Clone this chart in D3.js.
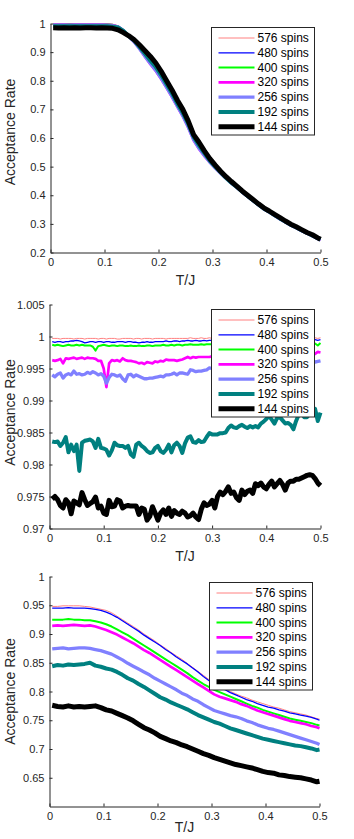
<!DOCTYPE html>
<html>
<head>
<meta charset="utf-8">
<script src="https://cdn.jsdelivr.net/npm/d3@7"></script>
<style>
  body { margin: 0; background: #fff; }
  svg { display: block; font-family: "Liberation Sans", Arial, sans-serif; }
</style>
</head>
<body>
<div id="chart"></div>
<script>
// legend labels and styles of the seven system sizes
const spinLabels = ['576 spins', '480 spins', '400 spins', '320 spins', '256 spins', '192 spins', '144 spins']
const spinColors = ['#ff8080', '#0000ff', '#00ff00', '#ff00ff', '#8080ff', '#008080', '#000000']
const spinWidths = [1, 1.3, 2, 2.7, 3.3, 4, 5]

const xTicks = [0, 0.1, 0.2, 0.3, 0.4, 0.5]
const yTicksTop = [0.2, 0.3, 0.4, 0.5, 0.6, 0.7, 0.8, 0.9, 1]
const yTicksMid = [0.97, 0.975, 0.98, 0.985, 0.99, 0.995, 1, 1.005]
const yTicksBot = [0.65, 0.7, 0.75, 0.8, 0.85, 0.9, 0.95, 1]

// temperature grid of the top and bottom panels
const tCoarse = [0.005, 0.015, 0.025, 0.035, 0.045, 0.055, 0.065, 0.075, 0.085, 0.095,
  0.105, 0.115, 0.125, 0.135, 0.145, 0.155, 0.165, 0.175, 0.185, 0.195,
  0.205, 0.215, 0.225, 0.235, 0.245, 0.255, 0.265, 0.275, 0.285, 0.295,
  0.305, 0.315, 0.325, 0.335, 0.345, 0.355, 0.365, 0.375, 0.385, 0.395,
  0.405, 0.415, 0.425, 0.435, 0.445, 0.455, 0.465, 0.475, 0.485, 0.495, 0.5]

// temperature grid of the middle panel
const tFine = [0.005, 0.01, 0.015, 0.02, 0.025, 0.03, 0.035, 0.04, 0.045, 0.05,
  0.055, 0.06, 0.065, 0.07, 0.075, 0.08, 0.085, 0.09, 0.095, 0.1,
  0.105, 0.11, 0.115, 0.12, 0.125, 0.13, 0.135, 0.14, 0.145, 0.15,
  0.155, 0.16, 0.165, 0.17, 0.175, 0.18, 0.185, 0.19, 0.195, 0.2,
  0.205, 0.21, 0.215, 0.22, 0.225, 0.23, 0.235, 0.24, 0.245, 0.25,
  0.255, 0.26, 0.265, 0.27, 0.275, 0.28, 0.285, 0.29, 0.295, 0.3,
  0.305, 0.31, 0.315, 0.32, 0.325, 0.33, 0.335, 0.34, 0.345, 0.35,
  0.355, 0.36, 0.365, 0.37, 0.375, 0.38, 0.385, 0.39, 0.395, 0.4,
  0.405, 0.41, 0.415, 0.42, 0.425, 0.43, 0.435, 0.44, 0.445, 0.45,
  0.455, 0.46, 0.465, 0.47, 0.475, 0.48, 0.485, 0.49, 0.495, 0.5]

// top panel
const top576 = [0.999, 0.999, 0.999, 0.999, 0.999, 0.999, 0.999, 0.999, 0.999, 0.999,
  0.998, 0.997, 0.992, 0.978, 0.958, 0.94, 0.916, 0.89, 0.866, 0.842,
  0.814, 0.782, 0.75, 0.715, 0.682, 0.643, 0.598, 0.567, 0.542, 0.518,
  0.498, 0.478, 0.46, 0.443, 0.428, 0.412, 0.397, 0.382, 0.367, 0.353,
  0.342, 0.33, 0.318, 0.307, 0.296, 0.287, 0.277, 0.268, 0.259, 0.249, 0.245]
const top480 = [0.998, 0.998, 0.998, 0.998, 0.999, 0.998, 0.998, 0.998, 0.998, 0.998,
  0.997, 0.996, 0.99, 0.976, 0.955, 0.938, 0.915, 0.888, 0.864, 0.84,
  0.812, 0.78, 0.748, 0.713, 0.68, 0.641, 0.597, 0.566, 0.541, 0.518,
  0.497, 0.478, 0.46, 0.443, 0.428, 0.412, 0.397, 0.382, 0.367, 0.353,
  0.342, 0.33, 0.318, 0.307, 0.296, 0.287, 0.277, 0.268, 0.259, 0.249, 0.245]
const top400 = [0.998, 0.998, 0.998, 0.997, 0.998, 0.998, 0.998, 0.997, 0.998, 0.998,
  0.997, 0.996, 0.99, 0.977, 0.956, 0.937, 0.914, 0.887, 0.862, 0.838,
  0.81, 0.779, 0.747, 0.712, 0.679, 0.64, 0.596, 0.565, 0.54, 0.517,
  0.497, 0.478, 0.46, 0.443, 0.428, 0.412, 0.397, 0.382, 0.367, 0.353,
  0.342, 0.33, 0.318, 0.307, 0.296, 0.287, 0.277, 0.268, 0.259, 0.249, 0.245]
const top320 = [0.996, 0.996, 0.996, 0.995, 0.996, 0.996, 0.996, 0.996, 0.996, 0.996,
  0.995, 0.994, 0.989, 0.976, 0.955, 0.935, 0.911, 0.884, 0.858, 0.834,
  0.806, 0.775, 0.743, 0.709, 0.676, 0.637, 0.592, 0.562, 0.537, 0.515,
  0.495, 0.477, 0.459, 0.442, 0.427, 0.411, 0.396, 0.381, 0.366, 0.352,
  0.341, 0.329, 0.317, 0.306, 0.295, 0.286, 0.276, 0.267, 0.258, 0.248, 0.244]
const top256 = [0.994, 0.994, 0.994, 0.993, 0.994, 0.994, 0.994, 0.994, 0.994, 0.994,
  0.993, 0.992, 0.988, 0.975, 0.955, 0.936, 0.912, 0.885, 0.86, 0.836,
  0.808, 0.777, 0.745, 0.711, 0.678, 0.639, 0.594, 0.564, 0.539, 0.516,
  0.496, 0.477, 0.459, 0.442, 0.427, 0.411, 0.396, 0.381, 0.366, 0.352,
  0.341, 0.329, 0.317, 0.306, 0.295, 0.286, 0.276, 0.267, 0.258, 0.248, 0.244]
const top192 = [0.99, 0.99, 0.99, 0.99, 0.99, 0.99, 0.99, 0.99, 0.99, 0.99,
  0.99, 0.989, 0.986, 0.974, 0.956, 0.94, 0.918, 0.894, 0.87, 0.848,
  0.82, 0.788, 0.756, 0.72, 0.688, 0.65, 0.604, 0.574, 0.547, 0.521,
  0.5, 0.48, 0.461, 0.444, 0.429, 0.413, 0.398, 0.383, 0.368, 0.354,
  0.343, 0.331, 0.319, 0.308, 0.297, 0.288, 0.278, 0.269, 0.26, 0.25, 0.246]
const top144 = [0.985, 0.984, 0.985, 0.984, 0.985, 0.984, 0.985, 0.985, 0.984, 0.985,
  0.984, 0.983, 0.978, 0.968, 0.957, 0.943, 0.925, 0.905, 0.885, 0.862,
  0.833, 0.8, 0.768, 0.732, 0.7, 0.66, 0.612, 0.585, 0.555, 0.528,
  0.505, 0.484, 0.465, 0.448, 0.432, 0.415, 0.4, 0.385, 0.37, 0.356,
  0.345, 0.333, 0.322, 0.31, 0.299, 0.29, 0.28, 0.27, 0.262, 0.251, 0.246]

// middle panel
const mid576 = [0.9997, 0.9997, 0.9997, 0.9996, 0.9997, 0.9997, 0.9997, 0.9997, 0.9996, 0.9997,
  0.9997, 0.9997, 0.9996, 0.9997, 0.9997, 0.9997, 0.9997, 0.9996, 0.9997, 0.9997,
  0.9996, 0.9997, 0.9997, 0.9997, 0.9996, 0.9996, 0.9997, 0.9997, 0.9997, 0.9997,
  0.9996, 0.9997, 0.9997, 0.9996, 0.9997, 0.9997, 0.9997, 0.9996, 0.9997, 0.9997,
  0.9997, 0.9997, 0.9996, 0.9997, 0.9997, 0.9997, 0.9997, 0.9997, 0.9997, 0.9997,
  0.9997, 0.9998, 0.9997, 0.9997, 0.9997, 0.9998, 0.9997, 0.9997, 0.9998, 0.9997,
  0.9997, 0.9998, 0.9997, 0.9997, 0.9998, 0.9997, 0.9997, 0.9998, 0.9997, 0.9997,
  0.9998, 0.9997, 0.9997, 0.9998, 0.9997, 0.9998, 0.9997, 0.9997, 0.9998, 0.9997,
  0.9997, 0.9998, 0.9997, 0.9998, 0.9997, 0.9997, 0.9998, 0.9997, 0.9998, 0.9997,
  0.9998, 0.9997, 0.9997, 0.9998, 0.9997, 0.9998, 0.9997, 0.9998, 0.9997, 0.9998]
const mid480 = [0.9992, 0.9991, 0.9992, 0.9992, 0.9991, 0.9992, 0.9992, 0.9993, 0.9993, 0.9994,
  0.9993, 0.9992, 0.999, 0.9991, 0.9992, 0.9992, 0.9991, 0.9992, 0.9992, 0.9991,
  0.9992, 0.9992, 0.9991, 0.9991, 0.9992, 0.9992, 0.9992, 0.9991, 0.9992, 0.9992,
  0.9991, 0.9991, 0.999, 0.9991, 0.9991, 0.9992, 0.9991, 0.9991, 0.9992, 0.9992,
  0.9992, 0.9992, 0.9993, 0.9992, 0.9992, 0.9993, 0.9993, 0.9992, 0.9993, 0.9993,
  0.9994, 0.9993, 0.9993, 0.9994, 0.9993, 0.9993, 0.9994, 0.9993, 0.9994, 0.9994,
  0.9994, 0.9993, 0.9994, 0.9994, 0.9993, 0.9994, 0.9994, 0.9993, 0.9994, 0.9994,
  0.9994, 0.9995, 0.9994, 0.9994, 0.9995, 0.9994, 0.9994, 0.9995, 0.9994, 0.9995,
  0.9994, 0.9995, 0.9995, 0.9994, 0.9995, 0.9995, 0.9994, 0.9995, 0.9995, 0.9994,
  0.9995, 0.9995, 0.9994, 0.9995, 0.9995, 0.9994, 0.9995, 0.9995, 0.9994, 0.9995]
const mid400 = [0.9987, 0.9986, 0.9987, 0.9986, 0.9985, 0.9986, 0.9987, 0.9986, 0.9986, 0.9987,
  0.9986, 0.9987, 0.9986, 0.9986, 0.9986, 0.9984, 0.9978, 0.9985, 0.9986, 0.9987,
  0.9986, 0.9985, 0.9986, 0.9986, 0.9985, 0.9986, 0.9986, 0.9985, 0.9985, 0.9986,
  0.9985, 0.9985, 0.9986, 0.9985, 0.9985, 0.9986, 0.9986, 0.9985, 0.9986, 0.9986,
  0.9986, 0.9987, 0.9986, 0.9986, 0.9987, 0.9986, 0.9987, 0.9987, 0.9986, 0.9987,
  0.9987, 0.9988, 0.9987, 0.9987, 0.9987, 0.9988, 0.9987, 0.9988, 0.9988, 0.9988,
  0.9988, 0.9987, 0.9988, 0.9988, 0.9988, 0.9989, 0.9988, 0.9988, 0.9988, 0.9989,
  0.9988, 0.9988, 0.9989, 0.9988, 0.9989, 0.9988, 0.9988, 0.9989, 0.9988, 0.9989,
  0.9989, 0.9988, 0.9989, 0.9989, 0.9988, 0.9989, 0.9989, 0.9988, 0.9989, 0.9989,
  0.9989, 0.9988, 0.9989, 0.9989, 0.9989, 0.9988, 0.9989, 0.9989, 0.9986, 0.999]
const mid320 = [0.9963, 0.9962, 0.9963, 0.9965, 0.9958, 0.9966, 0.9965, 0.9966, 0.9967, 0.9965,
  0.9966, 0.9967, 0.9965, 0.9967, 0.9966, 0.9966, 0.9965, 0.9962, 0.9962, 0.995,
  0.9921, 0.9958, 0.9963, 0.9962, 0.9963, 0.9961, 0.9966, 0.9963, 0.9962, 0.9962,
  0.9961, 0.996, 0.9958, 0.9959, 0.9957, 0.996, 0.9959, 0.9958, 0.9961, 0.996,
  0.9962, 0.9961, 0.9964, 0.9963, 0.9963, 0.9963, 0.9962, 0.9963, 0.9964, 0.9966,
  0.9968, 0.9966, 0.9968, 0.9967, 0.9968, 0.9968, 0.9968, 0.9968, 0.9968, 0.9969,
  0.9968, 0.9969, 0.997, 0.9969, 0.9969, 0.997, 0.9969, 0.997, 0.997, 0.9971,
  0.997, 0.997, 0.9971, 0.997, 0.9971, 0.9971, 0.997, 0.9971, 0.9972, 0.9971,
  0.9971, 0.9972, 0.9971, 0.9972, 0.9972, 0.9971, 0.9972, 0.9972, 0.9973, 0.9972,
  0.9972, 0.9973, 0.9972, 0.9973, 0.9973, 0.9972, 0.9973, 0.9973, 0.9976, 0.9975]
const mid256 = [0.994, 0.9937, 0.9941, 0.9943, 0.9935, 0.994, 0.9942, 0.994, 0.9946, 0.9941,
  0.9942, 0.994, 0.9941, 0.9944, 0.9942, 0.9945, 0.9943, 0.994, 0.9942, 0.9938,
  0.9927, 0.9936, 0.9941, 0.994, 0.9938, 0.994, 0.9934, 0.993, 0.994, 0.9941,
  0.9937, 0.994, 0.9938, 0.9936, 0.9934, 0.9934, 0.9935, 0.9935, 0.9936, 0.9937,
  0.9938, 0.9937, 0.994, 0.994, 0.9941, 0.9943, 0.994, 0.9943, 0.9943, 0.9942,
  0.9941, 0.9948, 0.9947, 0.9945, 0.9946, 0.9946, 0.9947, 0.9948, 0.9951, 0.995,
  0.9951, 0.9952, 0.9951, 0.9953, 0.9952, 0.9954, 0.9953, 0.9954, 0.9955, 0.9954,
  0.9955, 0.9956, 0.9955, 0.9956, 0.9957, 0.9956, 0.9957, 0.9958, 0.9957, 0.9958,
  0.9958, 0.9959, 0.9958, 0.9959, 0.996, 0.9959, 0.996, 0.996, 0.9961, 0.996,
  0.9961, 0.996, 0.9961, 0.9961, 0.9962, 0.9961, 0.9962, 0.996, 0.9961, 0.9962]
const mid192 = [0.9836, 0.9835, 0.9836, 0.9829, 0.9834, 0.9843, 0.9819, 0.9831, 0.9821, 0.9831,
  0.979, 0.9834, 0.9837, 0.9838, 0.9839, 0.9836, 0.9826, 0.984, 0.9826, 0.9825,
  0.9823, 0.9814, 0.9822, 0.9834, 0.983, 0.9829, 0.9829, 0.9826, 0.9829, 0.9816,
  0.9812, 0.9831, 0.9834, 0.9829, 0.9826, 0.9821, 0.9818, 0.9819, 0.9826, 0.9829,
  0.9821, 0.9818, 0.9823, 0.9831, 0.9819, 0.983, 0.9834, 0.9829, 0.9818, 0.9833,
  0.9842, 0.9844, 0.9835, 0.9834, 0.9838, 0.9835, 0.9836, 0.9843, 0.9849, 0.9847,
  0.9847, 0.9847, 0.9849, 0.9849, 0.985, 0.9857, 0.9861, 0.9858, 0.9857, 0.986,
  0.9862, 0.9859, 0.9857, 0.986, 0.9858, 0.986, 0.9858, 0.9864, 0.9867, 0.9871,
  0.9876, 0.987, 0.9864, 0.9873, 0.9874, 0.9869, 0.9864, 0.9865, 0.9862, 0.9855,
  0.9868, 0.9878, 0.9881, 0.9874, 0.9874, 0.9879, 0.9886, 0.9887, 0.9868, 0.9881]
const mid144 = [0.9746, 0.975, 0.9745, 0.9736, 0.9732, 0.9745, 0.974, 0.9723, 0.9743, 0.974,
  0.9737, 0.9756, 0.9745, 0.9736, 0.9739, 0.9742, 0.9749, 0.9732, 0.9735, 0.9724,
  0.9722, 0.9744, 0.9734, 0.9735, 0.9745, 0.9743, 0.9732, 0.9735, 0.9736, 0.9735,
  0.9735, 0.9735, 0.9722, 0.9732, 0.973, 0.9713, 0.9719, 0.9734, 0.9724, 0.9713,
  0.9724, 0.9729, 0.9722, 0.9732, 0.9719, 0.9728, 0.9724, 0.9722, 0.9727, 0.9724,
  0.9718, 0.972, 0.9724, 0.9718, 0.9714, 0.973, 0.974, 0.9736, 0.9738, 0.9744,
  0.9732, 0.975, 0.9757, 0.9753, 0.9758, 0.9765, 0.9755, 0.9757, 0.9748, 0.9744,
  0.976, 0.9753, 0.9758, 0.976, 0.9755, 0.977, 0.9767, 0.9771, 0.9765, 0.9762,
  0.9769, 0.9774, 0.9765, 0.977, 0.9775, 0.9769, 0.976, 0.9771, 0.9774, 0.9774,
  0.9777, 0.9777, 0.9779, 0.9781, 0.9783, 0.9784, 0.9783, 0.9778, 0.9771, 0.9767]

// bottom panel
const bot576 = [0.948, 0.948, 0.949, 0.949, 0.949, 0.949, 0.948, 0.947, 0.945, 0.943,
  0.941, 0.937, 0.931, 0.925, 0.919, 0.913, 0.907, 0.9, 0.894, 0.888,
  0.881, 0.875, 0.868, 0.862, 0.856, 0.849, 0.842, 0.835, 0.828, 0.821,
  0.815, 0.81, 0.805, 0.8, 0.796, 0.792, 0.789, 0.785, 0.782, 0.779,
  0.776, 0.773, 0.771, 0.768, 0.765, 0.763, 0.761, 0.759, 0.756, 0.753, 0.752]
const bot480 = [0.945, 0.945, 0.945, 0.946, 0.945, 0.945, 0.945, 0.944, 0.943, 0.941,
  0.938, 0.934, 0.929, 0.923, 0.917, 0.911, 0.905, 0.898, 0.892, 0.886,
  0.88, 0.873, 0.867, 0.86, 0.854, 0.848, 0.841, 0.834, 0.826, 0.819,
  0.813, 0.808, 0.803, 0.798, 0.794, 0.79, 0.786, 0.783, 0.779, 0.776,
  0.773, 0.771, 0.768, 0.766, 0.763, 0.761, 0.759, 0.757, 0.755, 0.752, 0.75]
const bot400 = [0.925, 0.925, 0.925, 0.926, 0.925, 0.925, 0.924, 0.924, 0.922, 0.92,
  0.917, 0.913, 0.908, 0.903, 0.898, 0.892, 0.886, 0.88, 0.874, 0.868,
  0.862, 0.856, 0.85, 0.844, 0.838, 0.832, 0.825, 0.819, 0.813, 0.808,
  0.803, 0.799, 0.795, 0.791, 0.787, 0.783, 0.779, 0.775, 0.772, 0.768,
  0.765, 0.762, 0.759, 0.756, 0.753, 0.751, 0.749, 0.747, 0.745, 0.742, 0.741]
const bot320 = [0.914, 0.915, 0.914, 0.915, 0.916, 0.915, 0.914, 0.915, 0.913, 0.91,
  0.907, 0.903, 0.899, 0.894, 0.889, 0.884, 0.878, 0.872, 0.867, 0.861,
  0.855, 0.849, 0.843, 0.837, 0.831, 0.825, 0.819, 0.813, 0.807, 0.801,
  0.795, 0.791, 0.788, 0.785, 0.782, 0.778, 0.775, 0.771, 0.767, 0.764,
  0.761, 0.758, 0.755, 0.752, 0.749, 0.747, 0.745, 0.743, 0.74, 0.738, 0.736]
const bot256 = [0.874, 0.875, 0.876, 0.874, 0.875, 0.876, 0.876, 0.875, 0.873, 0.871,
  0.868, 0.865, 0.86, 0.855, 0.849, 0.844, 0.839, 0.834, 0.829, 0.823,
  0.818, 0.813, 0.808, 0.803, 0.797, 0.793, 0.787, 0.783, 0.777, 0.772,
  0.767, 0.764, 0.761, 0.758, 0.756, 0.753, 0.749, 0.746, 0.742, 0.739,
  0.736, 0.734, 0.731, 0.728, 0.725, 0.722, 0.719, 0.716, 0.713, 0.71, 0.708]
const bot192 = [0.844, 0.846, 0.845, 0.847, 0.846, 0.847, 0.848, 0.85, 0.845, 0.843,
  0.84, 0.838, 0.834, 0.829, 0.823, 0.819, 0.813, 0.808, 0.802, 0.796,
  0.79, 0.786, 0.781, 0.777, 0.773, 0.769, 0.764, 0.759, 0.755, 0.751,
  0.747, 0.744, 0.74, 0.736, 0.733, 0.73, 0.727, 0.724, 0.721, 0.718,
  0.716, 0.714, 0.712, 0.71, 0.708, 0.706, 0.705, 0.703, 0.701, 0.698, 0.699]
const bot144 = [0.776, 0.774, 0.773, 0.775, 0.773, 0.774, 0.773, 0.774, 0.775, 0.772,
  0.768, 0.766, 0.762, 0.758, 0.754, 0.749, 0.743, 0.737, 0.733, 0.728,
  0.722, 0.718, 0.714, 0.711, 0.707, 0.704, 0.7, 0.696, 0.692, 0.689,
  0.685, 0.682, 0.679, 0.676, 0.673, 0.671, 0.669, 0.667, 0.664, 0.661,
  0.659, 0.658, 0.655, 0.654, 0.652, 0.651, 0.65, 0.648, 0.646, 0.643, 0.644]

const W = 354
const H = 839
const axisColor = '#262626'
const fmt = d3.format('~g')

const svg = d3.select('#chart')
  .append('svg')
  .attr('width', W)
  .attr('height', H)
  .attr('viewBox', [0, 0, W, H])

function drawPanel (cfg) {
  const x = d3.scaleLinear().domain([0, 0.5]).range([cfg.left, cfg.right])
  const y = d3.scaleLinear().domain(cfg.yDomain).range([cfg.bottom, cfg.top])
  const g = svg.append('g').attr('class', 'panel')

  g.append('clipPath')
    .attr('id', cfg.id + '-clip')
    .append('rect')
    .attr('x', cfg.left)
    .attr('y', cfg.top - 4)
    .attr('width', cfg.right - cfg.left + 4)
    .attr('height', cfg.bottom - cfg.top + 4)

  // axes first, data lines sit above them like matlab
  const xAxis = d3.axisBottom(x)
    .tickValues(xTicks)
    .tickFormat(fmt)
    .tickSizeInner(-3)
    .tickSizeOuter(0)
    .tickPadding(6)
  const yAxis = d3.axisLeft(y)
    .tickValues(cfg.yTicks)
    .tickFormat(fmt)
    .tickSizeInner(-3)
    .tickSizeOuter(0)
    .tickPadding(5)

  const gx = g.append('g')
    .attr('transform', `translate(0,${cfg.bottom})`)
    .call(xAxis)
  const gy = g.append('g')
    .attr('transform', `translate(${cfg.left},0)`)
    .call(yAxis)

  ;[gx, gy].forEach(a => {
    a.attr('font-family', null).attr('font-size', null)
    a.select('.domain').attr('stroke', axisColor)
    a.selectAll('.tick line').attr('stroke', axisColor)
    a.selectAll('.tick text').attr('fill', axisColor).style('font-size', '11px')
  })

  g.append('text')
    .attr('x', (cfg.left + cfg.right) / 2)
    .attr('y', cfg.bottom + cfg.xLabelGap)
    .attr('text-anchor', 'middle')
    .attr('dominant-baseline', 'middle')
    .attr('fill', axisColor)
    .style('font-size', '14px')
    .text('T/J')

  g.append('text')
    .attr('transform', `translate(11,${(cfg.top + cfg.bottom) / 2 + cfg.labelShift}) rotate(-90)`)
    .attr('text-anchor', 'middle')
    .attr('dominant-baseline', 'middle')
    .attr('fill', axisColor)
    .style('font-size', '14px')
    .text('Acceptance Rate')

  const line = d3.line()
    .x((d, i) => x(cfg.t[i]))
    .y(d => y(d))

  const gLines = g.append('g').attr('clip-path', `url(#${cfg.id}-clip)`)
  cfg.series.forEach((vals, i) => {
    gLines.append('path')
      .datum(vals)
      .attr('d', line)
      .attr('fill', 'none')
      .attr('stroke', spinColors[i])
      .attr('stroke-width', spinWidths[i])
      .attr('stroke-linejoin', 'round')
  })

  // legend box
  const lg = g.append('g').attr('transform', `translate(${cfg.legend[0]},${cfg.legend[1]})`)
  lg.append('rect')
    .attr('width', 103)
    .attr('height', 107.5)
    .attr('fill', '#fff')
    .attr('stroke', axisColor)
    .attr('stroke-width', 1)
  spinLabels.forEach((label, i) => {
    const yy = 10.5 + i * 14.8
    lg.append('line')
      .attr('x1', 7)
      .attr('x2', 43)
      .attr('y1', yy)
      .attr('y2', yy)
      .attr('stroke', spinColors[i])
      .attr('stroke-width', spinWidths[i])
    lg.append('text')
      .attr('x', 46)
      .attr('y', yy)
      .attr('dominant-baseline', 'central')
      .attr('fill', '#000')
      .style('font-size', '12px')
      .text(label)
  })
}

drawPanel({
  id: 'pa',
  left: 50.5,
  right: 320.5,
  top: 23.5,
  bottom: 252.5,
  labelShift: -6,
  xLabelGap: 29,
  yDomain: [0.2, 1],
  yTicks: yTicksTop,
  t: tCoarse,
  series: [top576, top480, top400, top320, top256, top192, top144],
  legend: [211.5, 27.5]
})

drawPanel({
  id: 'pb',
  left: 49.5,
  right: 320.5,
  top: 304.5,
  bottom: 528.5,
  labelShift: -4,
  xLabelGap: 29,
  yDomain: [0.97, 1.005],
  yTicks: yTicksMid,
  t: tFine,
  series: [mid576, mid480, mid400, mid320, mid256, mid192, mid144],
  legend: [211.5, 309.5]
})

drawPanel({
  id: 'pc',
  left: 49.5,
  right: 319.5,
  top: 576.5,
  bottom: 806.5,
  labelShift: 0,
  xLabelGap: 22,
  yDomain: [0.6, 1],
  yTicks: yTicksBot,
  t: tCoarse,
  series: [bot576, bot480, bot400, bot320, bot256, bot192, bot144],
  legend: [209.5, 582.5]
})
</script>
</body>
</html>
